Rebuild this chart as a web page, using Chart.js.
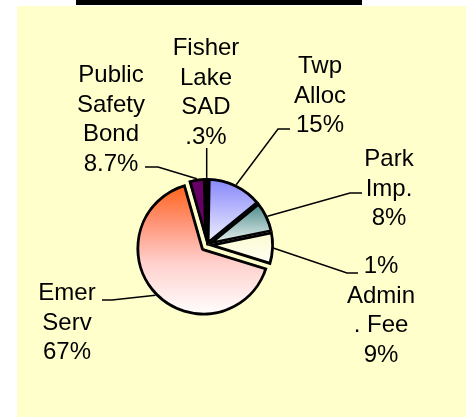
<!DOCTYPE html>
<html>
<head>
<meta charset="utf-8">
<script src="https://cdn.jsdelivr.net/npm/chart.js@4/dist/chart.umd.min.js"></script>
<style>
  body { margin: 0; background: #fff; }
  canvas { display: block; }
</style>
</head>
<body>
<canvas id="pieChart" width="466" height="417"></canvas>
<script>
// slices clockwise from 12 o'clock, sizes
const categories = ['Twp Alloc', 'Park Imp.', 'Admin. Fee', 'Emer Serv', 'Public Safety Bond', 'Fisher Lake SAD'];
const sliceShares = [13.8, 7.7, 8.0, 65.8, 4.0, 0.7];
const labelLines = [
    ['Twp', 'Alloc', '15%'],
    ['Park', 'Imp.', '8%'],
    ['1%', 'Admin', '. Fee', '9%'],
    ['Emer', 'Serv', '67%'],
    ['Public', 'Safety', 'Bond', '8.7%'],
    ['Fisher', 'Lake', 'SAD', '.3%']
];

// layout of the callouts (text centre, first baseline, leader elbow / end)
const calloutLayout = [
    { cx: 320, base: 73, elbow: [278, 129], end: [290, 129] },
    { cx: 389, base: 166, elbow: [350, 193], end: [362, 193] },
    { cx: 381, base: 273, elbow: [347, 273], end: [358, 273] },
    { cx: 67, base: 300, elbow: [112, 300], end: [102, 300] },
    { cx: 111, base: 82, elbow: [158, 167], end: [145, 167] },
    { cx: 206, base: 55, vertical: 148 }
];
const LINE_GAP = 29.5;
const PIE_RADIUS = 67;
const EXPLODED = 3;      // Emer Serv is pulled out a little
const EXPLODE_PX = 5;

function sliceFill(chart, i) {
    const area = chart.chartArea;
    const fallback = ['#9999ff', '#33807f', '#ffffdd', '#ff9f8a', '#660066', '#000000'][i];
    if (!area) return fallback;
    const ctx = chart.ctx;
    const cy = (area.top + area.bottom) / 2;
    const R = PIE_RADIUS;
    let g;
    if (i === 0) {
        g = ctx.createLinearGradient(0, cy - R, 0, cy);
        g.addColorStop(0, '#8585fb');
        g.addColorStop(1, '#f4f4ff');
    } else if (i === 1) {
        g = ctx.createLinearGradient(0, cy - R * 0.75, 0, cy);
        g.addColorStop(0, '#267472');
        g.addColorStop(1, '#f2f7f5');
    } else if (i === 2) {
        g = ctx.createLinearGradient(0, cy - 10, 0, cy + 28);
        g.addColorStop(0, '#fbfbd2');
        g.addColorStop(1, '#ffffff');
    } else if (i === 3) {
        g = ctx.createLinearGradient(0, cy - R, 0, cy + R);
        g.addColorStop(0, '#ff6010');
        g.addColorStop(0.3, '#ff9274');
        g.addColorStop(0.6, '#ffcfcb');
        g.addColorStop(1, '#ffffff');
    } else {
        return fallback;
    }
    return g;
}

const panelPlugin = {
    id: 'panel',
    beforeDraw(chart) {
        const ctx = chart.ctx;
        ctx.save();
        ctx.fillStyle = '#ffffff';
        ctx.fillRect(0, 0, chart.width, chart.height);
        ctx.fillStyle = '#ffffcc';
        ctx.fillRect(17, 6, chart.width - 17, chart.height - 6);
        ctx.fillStyle = '#000000';
        ctx.fillRect(76, 0, 286, 5);
        ctx.restore();
    }
};

const explodePlugin = {
    id: 'explode',
    afterUpdate(chart) {
        const arc = chart.getDatasetMeta(0).data[EXPLODED];
        if (!arc || arc._shifted) return;
        const draw = arc.draw;
        arc.draw = function (ctx) {
            const mid = (this.startAngle + this.endAngle) / 2;
            ctx.save();
            ctx.translate(Math.cos(mid) * EXPLODE_PX, Math.sin(mid) * EXPLODE_PX);
            draw.call(this, ctx);
            ctx.restore();
        };
        arc._shifted = true;
    }
};

const calloutPlugin = {
    id: 'callouts',
    afterDatasetsDraw(chart) {
        const ctx = chart.ctx;
        const arcs = chart.getDatasetMeta(0).data;
        ctx.save();
        ctx.strokeStyle = '#000';
        ctx.lineWidth = 1.5;
        ctx.fillStyle = '#000';
        ctx.font = '24px "Liberation Sans", Arial, sans-serif';
        ctx.textAlign = 'center';
        ctx.textBaseline = 'alphabetic';
        arcs.forEach((arc, i) => {
            const lay = calloutLayout[i];
            const mid = (arc.startAngle + arc.endAngle) / 2;
            let x = arc.x, y = arc.y;
            if (i === EXPLODED) {
                x += Math.cos(mid) * EXPLODE_PX;
                y += Math.sin(mid) * EXPLODE_PX;
            }
            const sx = x + Math.cos(mid) * arc.outerRadius;
            const sy = y + Math.sin(mid) * arc.outerRadius;
            ctx.beginPath();
            ctx.moveTo(sx, sy);
            if (lay.vertical) {
                ctx.lineTo(sx, lay.vertical);
            } else {
                ctx.lineTo(lay.elbow[0], lay.elbow[1]);
                ctx.lineTo(lay.end[0], lay.end[1]);
            }
            ctx.stroke();
            labelLines[i].forEach((t, k) => {
                ctx.fillText(t, lay.cx, lay.base + k * LINE_GAP);
            });
        });
        ctx.restore();
    }
};

const pieCtx = document.getElementById('pieChart').getContext('2d');
const pieChart = new Chart(pieCtx, {
    type: 'pie',
    data: {
        labels: categories,
        datasets: [{
            data: sliceShares,
            backgroundColor: (c) => sliceFill(c.chart, c.dataIndex),
            borderColor: '#000000',
            borderWidth: 2.5,
            borderAlign: 'inner'
        }]
    },
    options: {
        responsive: false,
        animation: false,
        radius: PIE_RADIUS,
        rotation: 1,
        layout: { padding: { left: 107, right: 159, top: 145, bottom: 72 } },
        plugins: {
            legend: { display: false },
            tooltip: { enabled: false }
        }
    },
    plugins: [panelPlugin, explodePlugin, calloutPlugin]
});
</script>
</body>
</html>
